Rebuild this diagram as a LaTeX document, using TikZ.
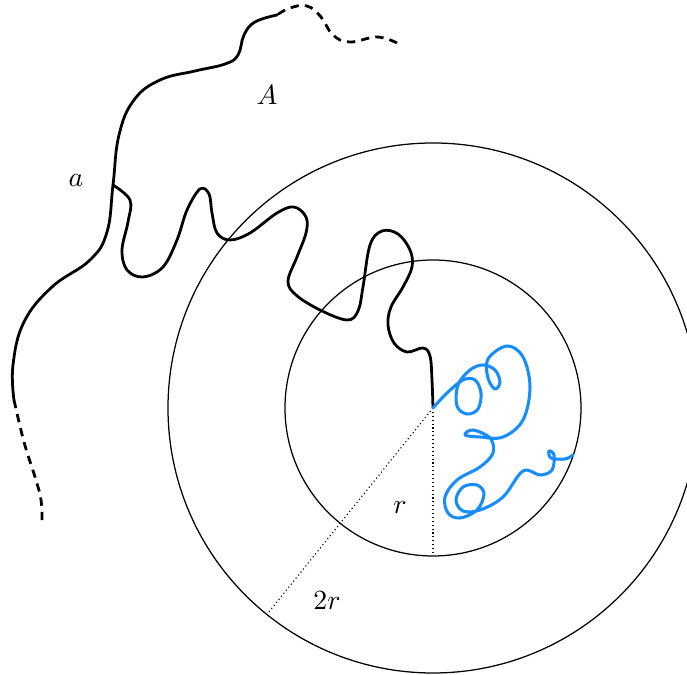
\documentclass[tikz,border=0pt]{standalone}
\begin{document}
\begin{tikzpicture}[x=0.36pt,y=-0.36pt,
  ring/.style={line width=0.45pt},
  walk/.style={line width=1pt,line cap=round,line join=round},
  walkdash/.style={walk,dash pattern=on 3pt off 2.2pt,line cap=butt},
  radiusline/.style={line width=0.4pt,dash pattern=on 0.4pt off 1pt},
  lbl/.style={inner sep=0pt,font=\normalsize}]
\useasboundingbox (0,0) rectangle (687,675);
\coordinate (C) at (433,408);
\coordinate (R1) at (433,555);
\coordinate (R2) at (268,613);
\draw[ring] (C) circle[radius=53.28pt];
\draw[ring] (C) circle[radius=95.4pt];
\draw[radiusline] (C) -- (R1);
\draw[radiusline] (C) -- (R2);
% black walk: dashed top-right part
\draw[walkdash] plot[smooth,tension=0.7] coordinates {(397,43) (377,37) (350,42) (333,35) (321,17) (307,6) (290,8) (277,15)};
% solid main
\draw[walk] plot[smooth,tension=0.7] coordinates {(277,15) (255,22) (244,35) (238,55) (225,64) (195,71) (160,80) (134,100) (119,135) (113,185) (107,232) (90,260) (52,287) (24,322) (13,365) (14,400)};
% dashed bottom-left
\draw[walkdash] plot[smooth,tension=0.7] coordinates {(14,400) (24,442) (35,477) (41,500) (42,523)};
% branch to centre
\draw[walk] plot[smooth,tension=0.6] coordinates {(113,185) (130,200) (128,222) (122,250) (127,270) (143,277) (163,267) (177,240) (187,210) (200,189) (209,194) (212,213) (217,233) (230,240) (250,233) (277,213) (294,207) (306,217) (306,233) (297,257) (288,281) (296,295) (320,310) (347,320) (358,311) (363,287) (370,245) (382,231) (398,234) (410,250) (412,267) (403,287) (391,307) (388,325) (394,343) (407,352) (423,348) (430,356) (432,380) (433,408)};
% blue walk
\draw[walk,line width=1.1pt,color={rgb,255:red,25;green,140;blue,255}] plot[smooth,tension=0.6] coordinates {(433,408) (447,393) (463,380) (475,380) (481,393) (478,409) (467,414) (457,406) (458,385) (470,370) (483,365) (495,370) (500,382) (495,389) (488,378) (488,359) (507,346) (523,357) (530,387) (523,420) (503,437) (480,437) (465,435) (473,430) (490,438) (493,453) (480,467) (457,480) (445,497) (448,513) (460,518) (477,510) (484,494) (477,485) (463,487) (456,500) (463,511) (480,510) (503,497) (523,471) (540,475) (552,470) (554,455) (549,451) (551,458) (565,459) (573,455)};
\node[lbl] (lA) at (267,95) {$A$};
\node[lbl] (la) at (76,181) {$a$};
\node[lbl] (lr) at (400,508) {$r$};
\node[lbl] (l2r) at (327,601) {$2r$};
\end{tikzpicture}
\end{document}
